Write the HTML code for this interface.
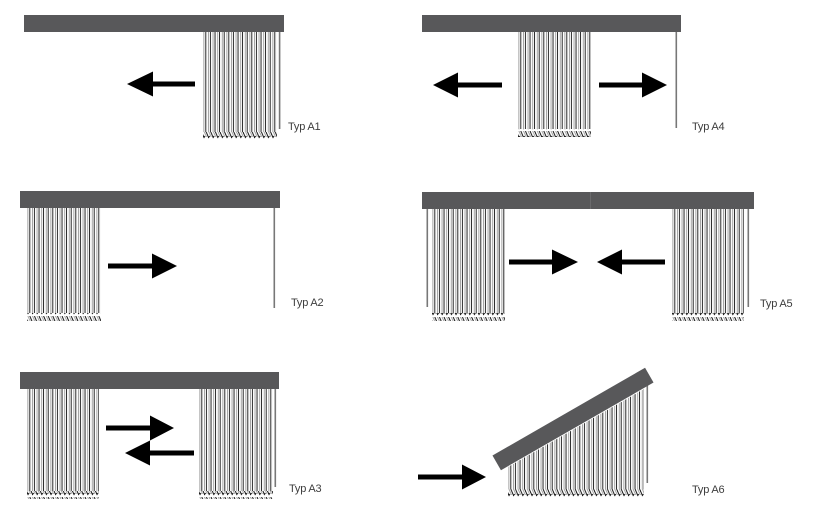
<!DOCTYPE html>
<html>
<head>
<meta charset="utf-8">
<style>
html,body{margin:0;padding:0;background:#fff;}
svg{display:block;}
text{font-family:"Liberation Sans",Arial,sans-serif;font-size:11px;fill:#3c3c3c;letter-spacing:-0.2px;}
</style>
</head>
<body>
<svg width="820" height="527" viewBox="0 0 820 527" xmlns="http://www.w3.org/2000/svg">
<defs>
  <pattern id="sl" width="4.6" height="10" patternUnits="userSpaceOnUse">
    <rect x="0.4" y="0" width="0.9" height="10" fill="#9a9a9a"/>
    <rect x="2.4" y="0" width="0.85" height="10" fill="#000"/>
  </pattern>
  <pattern id="zz" width="4.6" height="9" patternUnits="userSpaceOnUse">
    <g fill="none" stroke-width="0.9">
      <path d="M0.85 0 L3.6 6" stroke="#9a9a9a"/>
      <path d="M-3.75 0 L-1 6" stroke="#9a9a9a"/>
      <path d="M2.8 0 L5.6 6.5 L6.6 5" stroke="#000"/>
      <path d="M-1.8 0 L1 6.5 L2 5" stroke="#000"/>
    </g>
  </pattern>
</defs>

<!-- ============ A1 ============ -->
<rect x="24" y="15" width="260" height="17" fill="#58585a"/>
<g transform="translate(203,32)">
  <rect width="74" height="100" fill="url(#sl)"/>
  <rect y="100" width="74" height="8" fill="url(#zz)"/>
</g>
<rect x="278.8" y="32" width="1.6" height="97" fill="#777"/>
<polygon points="195,81.5 153,81.5 153,71.5 127,84 153,96.5 153,86.5 195,86.5" fill="#000"/>
<text x="288" y="130">Typ A1</text>

<!-- ============ A4 ============ -->
<rect x="422" y="15" width="259" height="17" fill="#58585a"/>
<g transform="translate(518,32)">
  <rect width="73" height="97" fill="url(#sl)"/>
  <rect y="97" width="73" height="8" fill="url(#zz)"/>
</g>
<rect x="675.5" y="32" width="1.6" height="96" fill="#777"/>
<polygon points="502,82.5 458,82.5 458,72.5 433,85 458,97.5 458,87.5 502,87.5" fill="#000"/>
<polygon points="599,82.5 642,82.5 642,72.5 667,85 642,97.5 642,87.5 599,87.5" fill="#000"/>
<text x="692" y="130">Typ A4</text>

<!-- ============ A2 ============ -->
<rect x="20" y="191" width="260" height="17" fill="#58585a"/>
<g transform="translate(27,208)">
  <rect width="74" height="105" fill="url(#sl)"/>
  <rect y="105" width="74" height="8" fill="url(#zz)"/>
</g>
<rect x="273.5" y="208" width="1.6" height="100" fill="#777"/>
<polygon points="108,263.5 152,263.5 152,253.5 177,266 152,278.5 152,268.5 108,268.5" fill="#000"/>
<text x="291" y="306">Typ A2</text>

<!-- ============ A5 ============ -->
<rect x="422" y="192" width="332" height="17" fill="#58585a"/>
<rect x="590" y="192" width="1" height="17" fill="#6a6a6c"/>
<rect x="426.5" y="209" width="1.6" height="98" fill="#777"/>
<g transform="translate(432,209)">
  <rect width="73" height="104" fill="url(#sl)"/>
  <rect y="104" width="73" height="8" fill="url(#zz)"/>
</g>
<g transform="translate(672,209)">
  <rect width="72" height="104" fill="url(#sl)"/>
  <rect y="104" width="72" height="8" fill="url(#zz)"/>
</g>
<rect x="747.5" y="209" width="1.6" height="98" fill="#777"/>
<polygon points="509,259.5 552,259.5 552,249.5 578,262 552,274.5 552,264.5 509,264.5" fill="#000"/>
<polygon points="665,259.5 622,259.5 622,249.5 597,262 622,274.5 622,264.5 665,264.5" fill="#000"/>
<text x="760" y="307">Typ A5</text>

<!-- ============ A3 ============ -->
<rect x="20" y="372" width="259" height="17" fill="#58585a"/>
<g transform="translate(27,389)">
  <rect width="72" height="102" fill="url(#sl)"/>
  <rect y="102" width="72" height="8" fill="url(#zz)"/>
</g>
<g transform="translate(199,389)">
  <rect width="74" height="102" fill="url(#sl)"/>
  <rect y="102" width="74" height="8" fill="url(#zz)"/>
</g>
<rect x="274.5" y="389" width="1.6" height="98" fill="#777"/>
<polygon points="106,425.5 150,425.5 150,415.5 174,428 150,440.5 150,430.5 106,430.5" fill="#000"/>
<polygon points="194,450.5 150,450.5 150,440.5 125,453 150,465.5 150,455.5 194,455.5" fill="#000"/>
<text x="289" y="492">Typ A3</text>

<!-- ============ A6 ============ -->
<g transform="translate(508,0)">
  <polygon points="0,467 136,389 136,489 0,489" fill="url(#sl)"/>
  <g transform="translate(0,489)">
    <rect width="136" height="8" fill="url(#zz)"/>
  </g>
</g>
<rect x="646.5" y="384" width="1.6" height="99" fill="#777"/>
<rect x="-88" y="-8.5" width="176" height="17" fill="#58585a" transform="translate(573,419) rotate(-29.9)"/>
<polygon points="418,474.5 462,474.5 462,464.5 486,477 462,489.5 462,479.5 418,479.5" fill="#000"/>
<text x="692" y="493">Typ A6</text>
</svg>
</body>
</html>
